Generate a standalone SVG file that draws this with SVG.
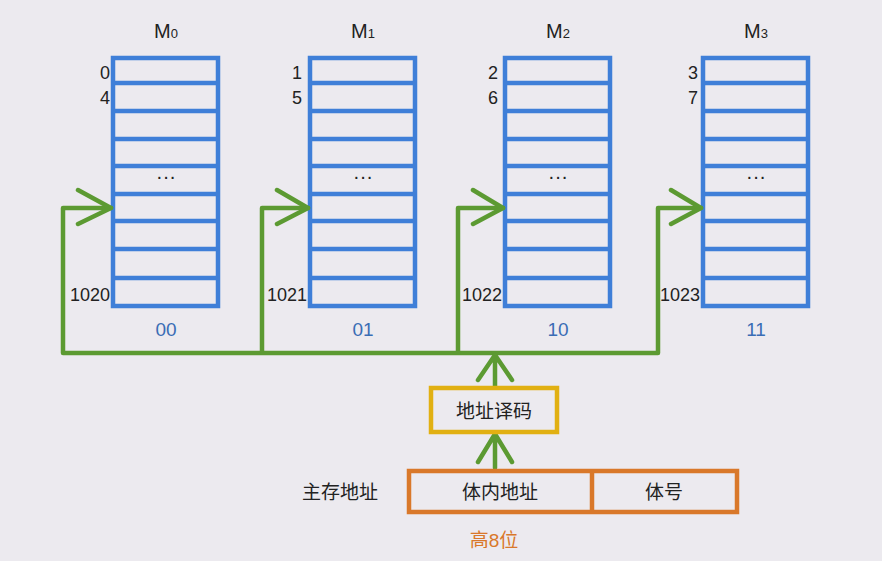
<svg xmlns="http://www.w3.org/2000/svg" width="882" height="561" viewBox="0 0 882 561">
<defs>
<style>
text{font-family:"Liberation Sans","Noto Sans CJK SC",sans-serif;fill:#222}
.bus{stroke:#5c9a32;stroke-width:4.5;fill:none;stroke-linejoin:round;stroke-linecap:round}
.n{font-size:18px;text-anchor:end}
.m{font-size:20px;text-anchor:middle}
.c{font-size:19px;text-anchor:middle;fill:#3a6db5}
.cn{font-size:19px;text-anchor:middle}
</style>
<g id="rows" fill="none" stroke="#3f7fd8" stroke-width="4.5">
<rect x="0" y="0" width="105" height="248"/>
<path d="M0,25H105M0,53H105M0,81H105M0,108H105M0,136H105M0,163H105M0,191H105M0,220H105"/>
</g>
</defs>
<rect width="882" height="561" fill="#eceaef"/>
<g id="M0"><use href="#rows" x="113" y="58"/><text class="m" x="166" y="38">M<tspan font-size="13">0</tspan></text><text class="n" x="110" y="79">0</text><text class="n" x="110" y="104">4</text><text class="n" x="110" y="301">1020</text><text class="m" x="166" y="183">···</text><text class="c" x="166" y="336">00</text></g>
<g id="M1"><use href="#rows" x="310" y="58"/><text class="m" x="363" y="38">M<tspan font-size="13">1</tspan></text><text class="n" x="302" y="79">1</text><text class="n" x="302" y="104">5</text><text class="n" x="307" y="301">1021</text><text class="m" x="363" y="183">···</text><text class="c" x="363" y="336">01</text></g>
<g id="M2"><use href="#rows" x="505" y="58"/><text class="m" x="558" y="38">M<tspan font-size="13">2</tspan></text><text class="n" x="498" y="79">2</text><text class="n" x="498" y="104">6</text><text class="n" x="502" y="301">1022</text><text class="m" x="558" y="183">···</text><text class="c" x="558" y="336">10</text></g>
<g id="M3"><use href="#rows" x="703" y="58"/><text class="m" x="756" y="38">M<tspan font-size="13">3</tspan></text><text class="n" x="698" y="79">3</text><text class="n" x="698" y="104">7</text><text class="n" x="700" y="301">1023</text><text class="m" x="756" y="183">···</text><text class="c" x="756" y="336">11</text></g>
<g id="connectors" class="bus">
<path d="M63,353 H658 M63,353 V208 H111 M262,353 V208 H308 M458,353 V208 H503 M658,353 V208 H701"/>
<path d="M78,190 L111,208 L78,224 M277,190 L308,208 L277,224 M473,190 L503,208 L473,224 M671,190 L701,208 L671,224"/>
<path d="M495,387 V355 M478,380 L495,355 L512,380"/>
<path d="M495,468 V434 M478,462 L495,434 L512,462"/>
</g>
<g id="decoder"><rect x="431" y="388" width="126" height="44" fill="none" stroke="#e1b012" stroke-width="4.5"/><text class="cn" x="494" y="418">地址译码</text></g>
<g id="address"><rect x="409" y="471" width="328" height="41" fill="none" stroke="#d9782a" stroke-width="4.5"/><line x1="592" y1="471" x2="592" y2="512" stroke="#d9782a" stroke-width="4.5"/><text class="cn" x="500" y="499">体内地址</text><text class="cn" x="664" y="499">体号</text><text class="cn" x="340" y="499">主存地址</text><text class="cn" x="494" y="547" style="fill:#d9782a">高8位</text></g>
</svg>
